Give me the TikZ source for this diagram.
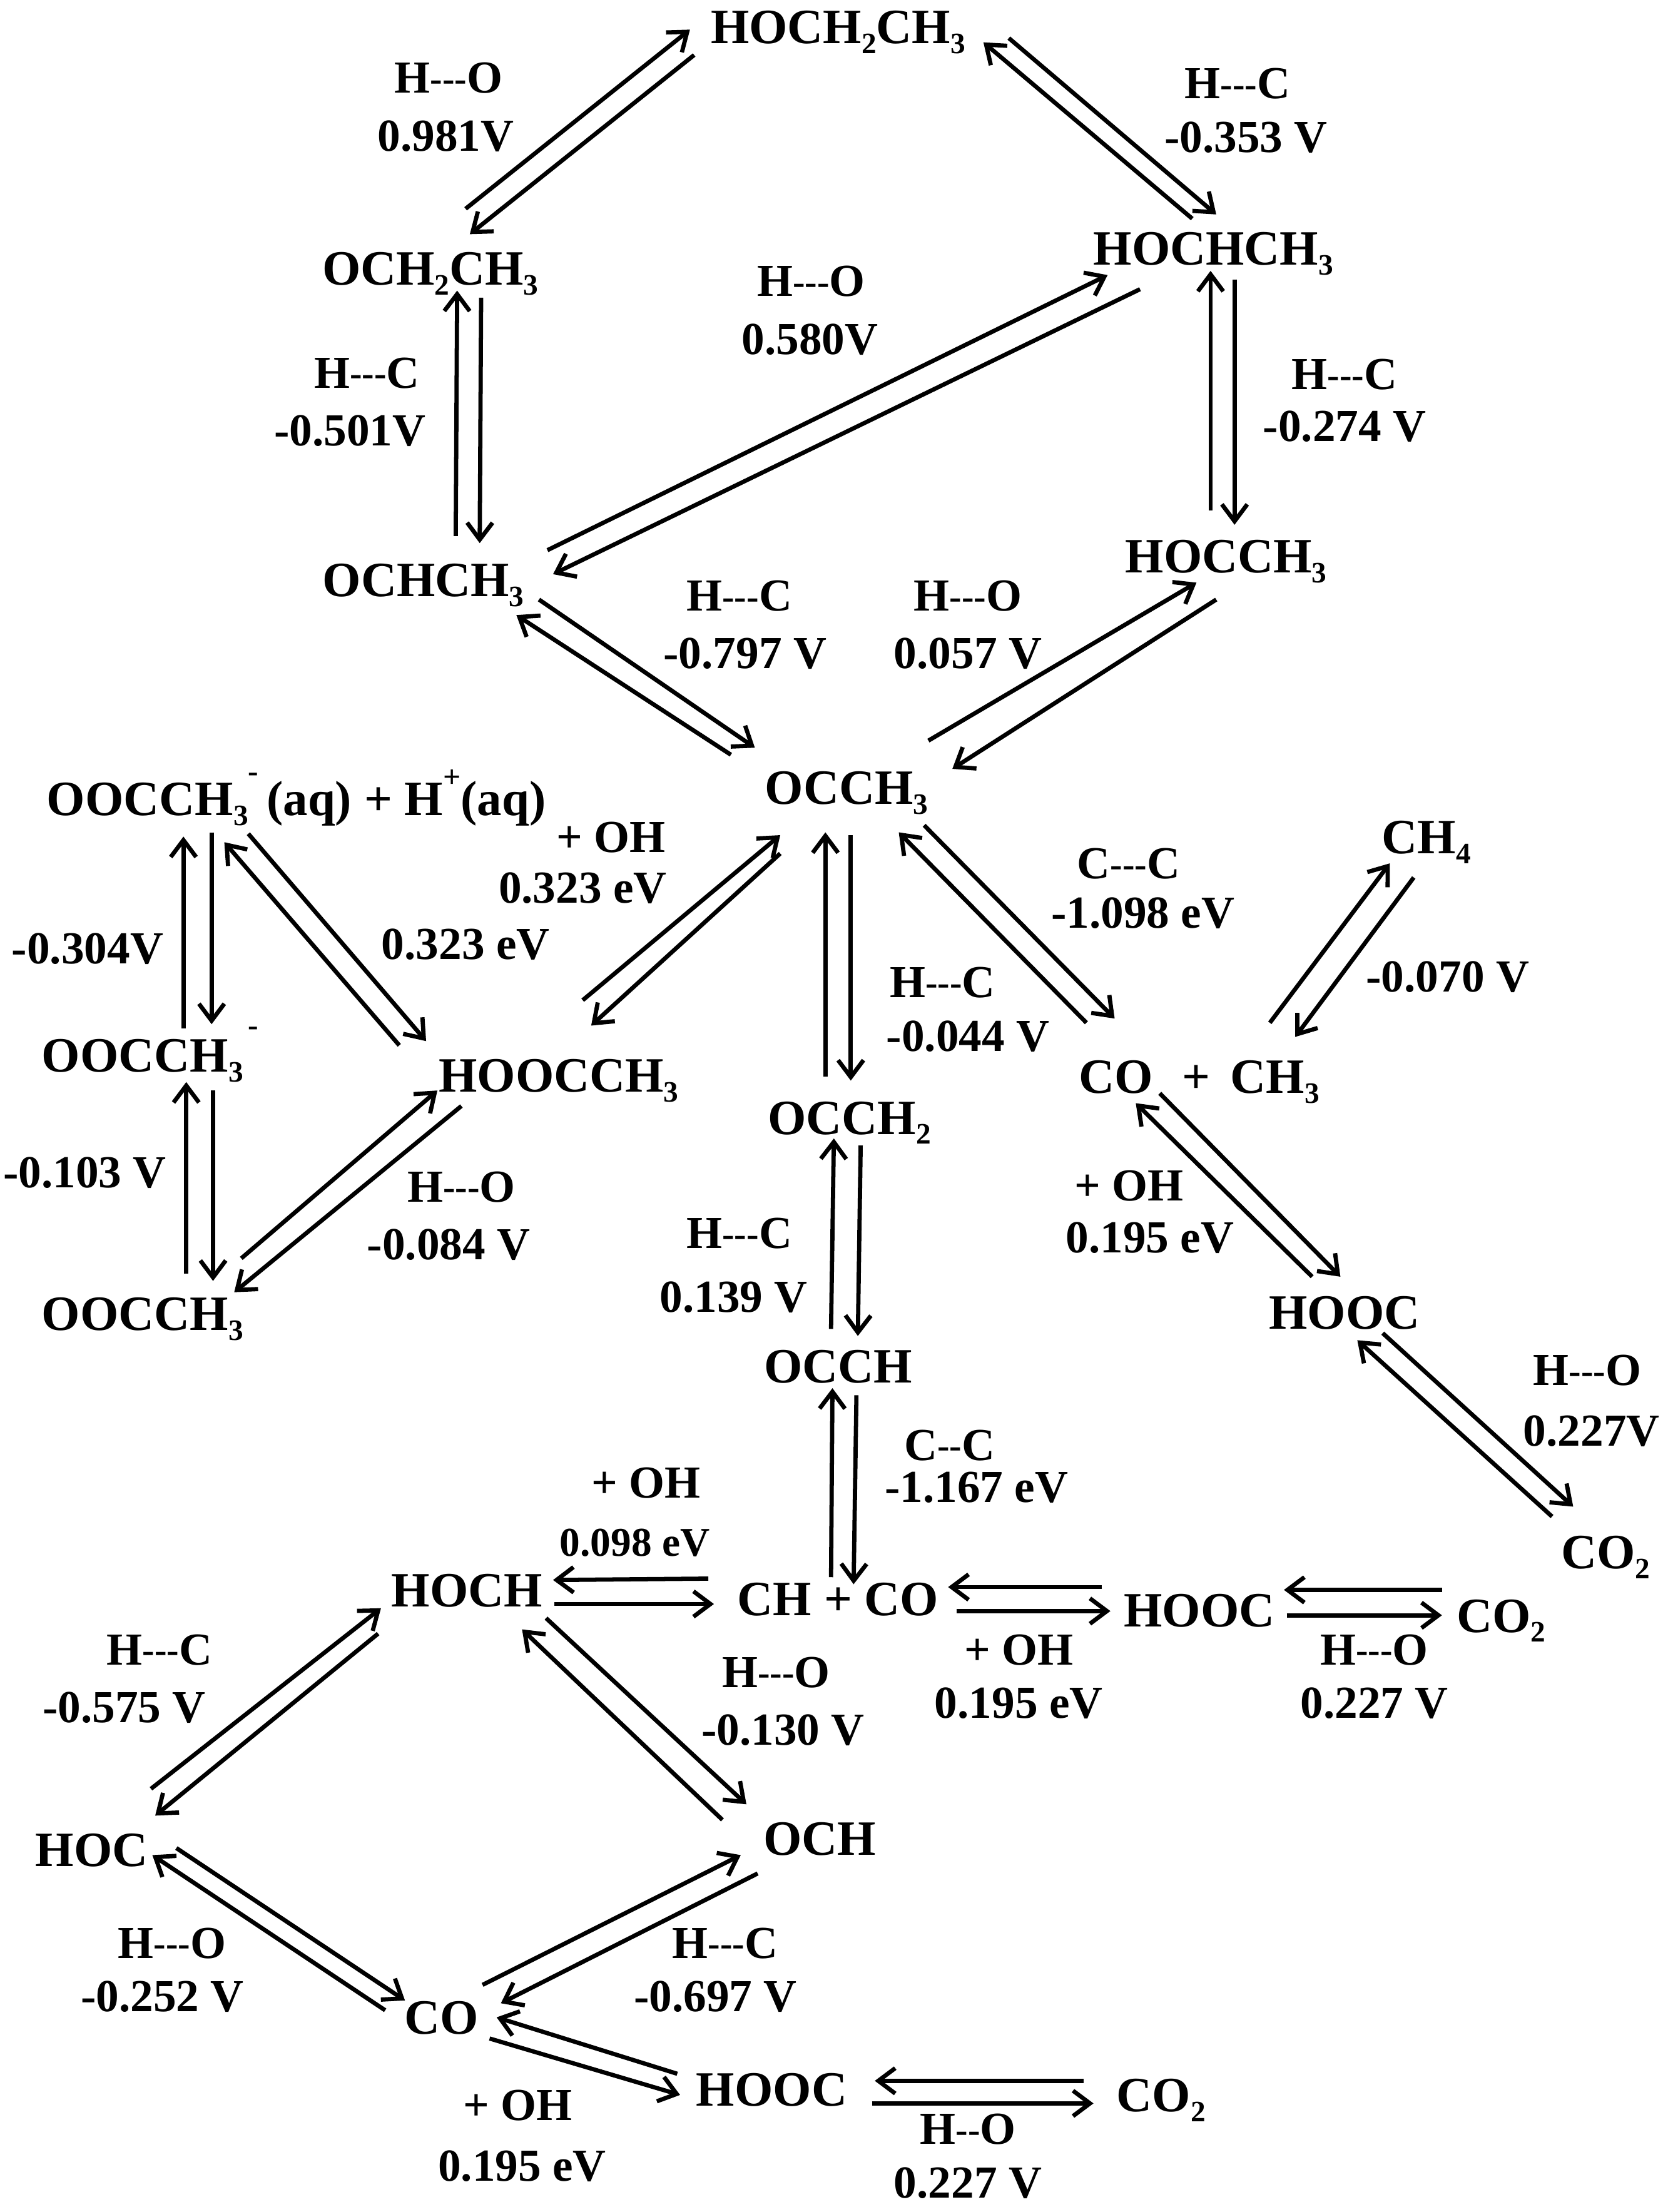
\documentclass[tikz,border=0pt]{standalone}
\usepackage{fontspec}
\setmainfont{Liberation Serif}
\usetikzlibrary{arrows.meta}
\newcommand{\lowx}[1]{\raisebox{-7pt}{\fontsize{21}{21}\selectfont #1}}
\newcommand{\highx}[2][14pt]{\raisebox{#1}{\fontsize{22}{22}\selectfont #2}}
\newcommand{\dsh}{\raisebox{1.5pt}{\fontsize{26}{26}\selectfont -}}
\tikzset{
  chem/.style={anchor=base,inner sep=0pt,font=\bfseries\fontsize{35}{38}\selectfont},
  lab/.style={anchor=base,inner sep=0pt,font=\bfseries\fontsize{32.5}{35}\selectfont},
  labs/.style={lab,font=\bfseries\fontsize{29}{32}\selectfont},
  rx/.style={line width=3pt,line cap=butt,-{Straight Barb[length=12pt,width=18pt,line width=3pt]}},
}
\newcommand{\rxn}[3]{\coordinate (#1-s) at (#2);\coordinate (#1-t) at (#3);\draw[rx] (#1-s) -- (#1-t);}
\begin{document}
\begin{tikzpicture}[x=1pt,y=-1pt]
\useasboundingbox (0,0) rectangle (1182.2,1568);
% species
\node[chem] (ethanol) at (594,31) {HOCH\lowx{2}CH\lowx{3}};
\node[chem] (och2ch3) at (305,202) {OCH\lowx{2}CH\lowx{3}};
\node[chem] (hochch3) at (860,188) {HOCHCH\lowx{3}};
\node[chem] (ochch3) at (300,423) {OCHCH\lowx{3}};
\node[chem] (hocch3) at (869,406) {HOCCH\lowx{3}};
\node[chem] (occh3) at (600,570) {OCCH\lowx{3}};
\node[chem] (acetaq) at (210,578) {OOCCH\lowx{3}\highx[24pt]{-}\,(aq) + H\highx[20pt]{+}(aq)};
\node[chem] (acet) at (101,760) {OOCCH\lowx{3}\rlap{\highx[26pt]{\,-}}};
\node[chem] (acetb) at (101,943) {OOCCH\lowx{3}};
\node[chem] (acid) at (396,774) {HOOCCH\lowx{3}};
\node[chem] (occh2) at (602,804) {OCCH\lowx{2}};
\node[chem] (coch3) at (850,775) {CO\,\, + \,CH\lowx{3}};
\node[chem] (ch4) at (1011,605) {CH\lowx{4}};
\node[chem] (hooca) at (953,942) {HOOC};
\node[chem] (occh) at (594,980) {OCCH};
\node[chem] (co2a) at (1138,1112) {CO\lowx{2}};
\node[chem] (hoocb) at (850,1153) {HOOC};
\node[chem] (co2b) at (1064,1157) {CO\lowx{2}};
\node[chem] (chco) at (594,1145) {CH + CO};
\node[chem] (hoch) at (331,1139) {HOCH};
\node[chem] (och) at (581,1315) {OCH};
\node[chem] (hoc) at (65,1323) {HOC};
\node[chem] (co) at (313,1442) {CO};
\node[chem] (hoocc) at (547,1493) {HOOC};
\node[chem] (co2c) at (823,1497) {CO\lowx{2}};
% labels
\node[lab] (l1a) at (318,66) {H\dsh\dsh\dsh O};
\node[lab] (l1b) at (316,107) {0.981V};
\node[lab] (l2a) at (877,70) {H\dsh\dsh\dsh C};
\node[lab] (l2b) at (883,108) {-0.353 V};
\node[lab] (l3a) at (575,210) {H\dsh\dsh\dsh O};
\node[lab] (l3b) at (574,251) {0.580V};
\node[lab] (l4a) at (260,275) {H\dsh\dsh\dsh C};
\node[lab] (l4b) at (248,316) {-0.501V};
\node[lab] (l5a) at (953,276) {H\dsh\dsh\dsh C};
\node[lab] (l5b) at (953,313) {-0.274 V};
\node[lab] (l6a) at (524,433) {H\dsh\dsh\dsh C};
\node[lab] (l6b) at (528,474) {-0.797 V};
\node[lab] (l7a) at (686,433) {H\dsh\dsh\dsh O};
\node[lab] (l7b) at (686,474) {0.057 V};
\node[lab] (l8a) at (433,604) {+ OH};
\node[lab] (l8b) at (413,640) {0.323 eV};
\node[lab] (l9) at (330,680) {0.323 eV};
\node[lab] (l10) at (62,683) {-0.304V};
\node[lab] (l11) at (60,842) {-0.103 V};
\node[lab] (l12a) at (327,852) {H\dsh\dsh\dsh O};
\node[lab] (l12b) at (318,893) {-0.084 V};
\node[lab] (l13a) at (800,623) {C\dsh\dsh\dsh C};
\node[lab] (l13b) at (810,658) {-1.098 eV};
\node[lab] (l14a) at (668,707) {H\dsh\dsh\dsh C};
\node[lab] (l14b) at (686,745) {-0.044 V};
\node[lab] (l15) at (1026,703) {-0.070 V};
\node[lab] (l16a) at (800,851) {+ OH};
\node[lab] (l16b) at (815,888) {0.195 eV};
\node[lab] (l17a) at (524,885) {H\dsh\dsh\dsh C};
\node[lab] (l17b) at (520,930) {0.139 V};
\node[lab] (l18a) at (1125,982) {H\dsh\dsh\dsh O};
\node[lab] (l18b) at (1128,1025) {0.227V};
\node[lab] (l19a) at (673,1035) {C\dsh\dsh C};
\node[lab] (l19b) at (692,1065) {-1.167 eV};
\node[lab] (l20a) at (458,1062) {+ OH};
\node[labs] (l20b) at (450,1103) {0.098 eV};
\node[lab] (l21a) at (722,1180) {+ OH};
\node[lab] (l21b) at (722,1218) {0.195 eV};
\node[lab] (l22a) at (974,1180) {H\dsh\dsh\dsh O};
\node[lab] (l22b) at (974,1218) {0.227 V};
\node[lab] (l23a) at (550,1196) {H\dsh\dsh\dsh O};
\node[lab] (l23b) at (555,1237) {-0.130 V};
\node[lab] (l24a) at (113,1180) {H\dsh\dsh\dsh C};
\node[lab] (l24b) at (88,1221) {-0.575 V};
\node[lab] (l25a) at (122,1388) {H\dsh\dsh\dsh O};
\node[lab] (l25b) at (115,1426) {-0.252 V};
\node[lab] (l26a) at (514,1388) {H\dsh\dsh\dsh C};
\node[lab] (l26b) at (507,1426) {-0.697 V};
\node[lab] (l27a) at (367,1503) {+ OH};
\node[lab] (l27b) at (370,1546) {0.195 eV};
\node[lab] (l28a) at (686,1520) {H\dsh\dsh O};
\node[lab] (l28b) at (686,1558) {0.227 V};
% connectors
\rxn{och2ch3-ethanol}{330,148}{489,21}
\rxn{ethanol-och2ch3}{492,39}{333,166}
\rxn{hochch3-ethanol}{845,155}{697,30}
\rxn{ethanol-hochch3}{715,27}{862,152}
\rxn{ochch3-och2ch3}{323,380}{324,206}
\rxn{och2ch3-ochch3}{341,211}{340,385}
\rxn{hocch3-hochch3}{858,362}{858,192}
\rxn{hochch3-hocch3}{875,198}{875,372}
\rxn{ochch3-hochch3}{388,390}{785,195}
\rxn{hochch3-ochch3}{808,205}{392,407}
\rxn{occh3-ochch3}{518,535}{366,436}
\rxn{ochch3-occh3}{382,425}{535,530}
\rxn{occh3-hocch3}{658,525}{848,413}
\rxn{hocch3-occh3}{862,425}{675,545}
\rxn{acet-acetaq}{130,729}{130,593}
\rxn{acetaq-acet}{150,590}{150,726}
\rxn{acid-acetaq}{283,741}{159,597}
\rxn{acetaq-acid}{176,591}{302,738}
\rxn{acetb-acet}{132,903}{132,767}
\rxn{acet-acetb}{151,773}{151,908}
\rxn{acetb-acid}{171,892}{310,773}
\rxn{acid-acetb}{327,784}{166,916}
\rxn{acid-occh3}{413,709}{553,592}
\rxn{occh3-acid}{553,605}{419,727}
\rxn{occh2-occh3}{585,763}{585,590}
\rxn{occh3-occh2}{603,592}{603,766}
\rxn{coch3-occh3}{770,725}{637,590}
\rxn{occh3-coch3}{655,585}{790,722}
\rxn{coch3-ch4}{900,725}{985,612}
\rxn{ch4-coch3}{1002,622}{918,735}
\rxn{hooca-coch3}{930,905}{805,782}
\rxn{coch3-hooca}{822,775}{950,905}
\rxn{co2a-hooca}{1100,1075}{962,950}
\rxn{hooca-co2a}{980,945}{1115,1068}
\rxn{occh-occh2}{589,942}{591,807}
\rxn{occh2-occh}{610,812}{608,947}
\rxn{chco-occh}{589,1118}{590,984}
\rxn{occh-chco}{607,989}{605,1123}
\rxn{chco-hoch}{502,1119}{392,1120}
\rxn{hoch-chco}{393,1137}{506,1137}
\rxn{hoocb-chco}{781,1125}{672,1125}
\rxn{chco-hoocb}{678,1142}{787,1142}
\rxn{co2b-hoocb}{1022,1127}{910,1127}
\rxn{hoocb-co2b}{912,1145}{1022,1145}
\rxn{hoc-hoch}{107,1268}{270,1140}
\rxn{hoch-hoc}{268,1158}{110,1287}
\rxn{och-hoch}{512,1290}{370,1155}
\rxn{hoch-och}{387,1147}{529,1279}
\rxn{co-hoc}{273,1425}{108,1315}
\rxn{hoc-co}{125,1310}{287,1418}
\rxn{co-och}{342,1407}{525,1315}
\rxn{och-co}{537,1328}{355,1420}
\rxn{hoocc-co}{480,1470}{352,1430}
\rxn{co-hoocc}{347,1445}{482,1485}
\rxn{co2c-hoocc}{768,1475}{620,1475}
\rxn{hoocc-co2c}{618,1491}{775,1491}
\end{tikzpicture}
\end{document}
